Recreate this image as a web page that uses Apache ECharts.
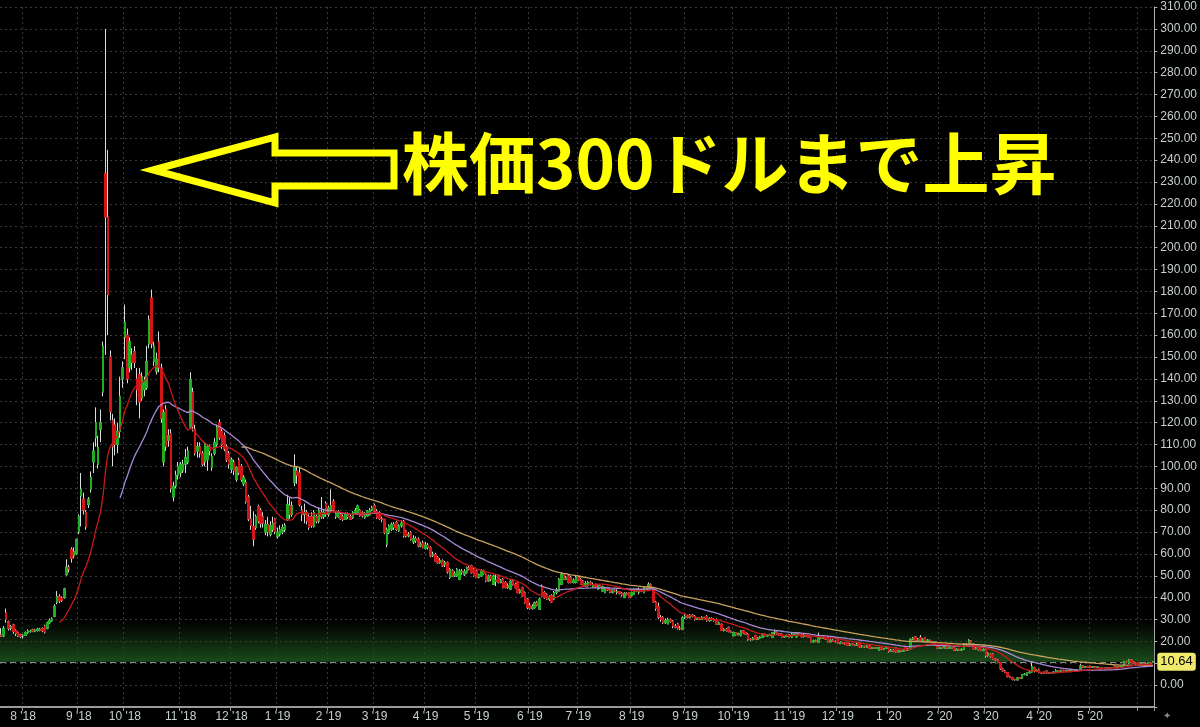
<!DOCTYPE html>
<html><head><meta charset="utf-8">
<script src="https://cdn.jsdelivr.net/npm/echarts@6/dist/echarts.min.js"></script>
<style>html,body{margin:0;padding:0;background:#000;}#c{width:1200px;height:727px;}</style>
</head><body><div id="c"></div>
<script>
// Daily candles per month: [open, close, low, high]
const jul18=[[23,22.4,22,26],[22.5,26,22,27],[33,30,28.5,35],[29,26,25,29.5],[26,26.8,25,27.5],[27.5,24.5,23.5,28],[25,23.5,22.5,25.5],[24,22.5,22,24.5],[23,22.3,21.5,23.5]];
const aug18=[[22.5,22.8,21.3,23.2],[22.8,24,22.5,24.5],[24,24.8,23.5,25.5],[24.5,24.6,24,25.2],[25.3,24.6,24.2,25.8],[24.6,25.2,24.2,25.6],[25,25.6,24.5,26.2],[25.6,25.1,24.6,26.2],[25.8,24.8,24.2,26.4],[27,24.2,23.6,27.6],[26,28.5,25.5,29],[28.5,29.6,28,30.5],[29.4,30.3,29,31],[31.5,36,31,37],[38,40.5,37,43],[40.5,38.5,37.5,41.5],[39.8,38.8,38,40.5],[40,44,39.5,44.5],[50.5,54,50,57.5],[54,53,51.5,55],[62,58,56,63],[59,61,58,63],[60,66.5,59.5,67]];
const sep18=[[70,77,69,78],[86.5,89.5,72.6,97],[85,80,78,88],[79,72.5,71,80],[82.6,85,81,86],[89.5,95,88,97.7],[102,107,97,111],[113,120,109,127],[101,108.7,99,114],[117,120,111,126],[134,155,132,157],[234,214,151,300],[214,178.5,160,244.7],[150,125,121,153],[121,109,100,124],[119,110,105,122],[110,116,106,120],[116,132,113,141],[140,145,136,148]];
const oct18=[[159,166,149,174],[160,140,138,163],[145,157,143,159],[151,147.5,144,154],[152.5,147.5,145,155],[140,135,128,145],[142,129.5,122,145],[131,141,130,143],[135,139,132,141],[136,148,135,155],[156,167,154,169],[177,156,154,180.8],[148,155,146,157],[143.5,149,142,152],[157,145,143,161.7],[145,122,120,147],[102,124.6,100,126],[126,109,107,128],[112,114,109,117],[115,90,88,117],[86,91,84,93],[91,96,90,98],[96,100,94,102]];
const nov18=[[97,101,95,102],[98,101,97,103],[101,104,97,108],[102,107,101,109],[118,139.7,117,143],[134,118,116,136],[117,106,105,119],[107,109,104,111],[109,106,104,111],[106,101,100,107],[102,110,100,111],[103,109,98,110],[109,107,105,110],[99.6,104.6,98,106],[106,111,105,113],[110,118,109,119],[120,113,112,121.5],[116,110,108,117],[114,108,107,115.5],[109,103,102,110],[106,101,99,107]];
const dec18=[[98.6,103,97,104],[102,98,96,103],[94,99.5,93,100],[103,97,96,104],[100,94,93,101],[92,95,91,96],[92.7,84,83,94],[86,76,75,87],[76,73,71,82],[72.6,66.7,63.5,79.5],[72,77,71,78],[81.7,75,74,82.5],[80,74,72,81],[77,74,72,79],[70,73.5,68.6,75.5],[73.5,70,68,77],[69,73,68,75],[71,74,70,77],[76,70,69,76.5]];
const jan19=[[68,70,67,72],[69,71,68,73],[70,72,69,73.5],[71,73,70,74],[75.8,82.6,75,87],[82,78,76,86],[78,82,77,84],[92.6,100,91,105.5],[98,96,92,100],[97,82.6,81.7,99.5],[80,78,75,82],[78,79,74,83],[79,75,73.5,80],[77,72,71,78],[77,73,72,79],[72.6,79,72,80],[77,75,74,78],[75,80,74,81],[79,77,76,86],[77,79,76,80],[83,78,77,84]];
const feb19=[[78,81,77,82],[80,82,79,89.5],[84,80,79,85],[77,78.5,76,79.5],[77,79,76.5,80],[78,76,75.5,79],[77,75.8,75,78],[75.8,78,75.5,79],[78,77,76,79],[77,75.8,75.5,78],[76.6,78.8,76,79.5],[78.8,80,78,81],[78.8,81.9,78.5,82.5],[80,77.5,77,80.5],[78.8,77.3,76.5,79.5],[76.5,78.5,76,79],[77.3,79.6,77,80],[78,80,77.5,81],[80,81,79.5,82]];
const mar19=[[82,79.5,79,83],[79.6,76.6,76,80.5],[78.8,76,75.5,79.5],[76,75.8,74.5,77],[75.8,69.7,69,76],[64.4,71.2,63,72],[69.7,72.8,69,73.5],[71.2,73.5,70.5,74.3],[73.5,72,71,74.5],[74.3,71.2,70.5,75],[70.5,72.8,70,73.5],[72.8,74,72,75.5],[75,68.2,67.5,75.5],[70.5,68.2,67.5,71],[68.2,69,67.5,70],[69.7,66.7,66,70.5],[65.5,67,64.5,68.5],[67,66,65,68],[66.7,63.6,63,67.5],[63.6,64.5,63,65.5],[65,62.9,62.5,66]];
const apr19=[[62.5,64,62,65.5],[64,62.9,62,65],[62.9,59.1,58.5,63.5],[59.1,59.8,58.5,61],[59.8,56.8,56.5,60.5],[58.3,56,55.5,59],[56,57,55.5,58],[56.8,54.5,54,57.5],[55,56,54,56.8],[56,51.8,51,56.5],[49.2,53,48.5,53.5],[52.2,49.9,49.5,53],[49.9,51,49.5,52],[49.9,53,49.5,53.5],[48.4,52.2,48,53],[52,51.5,50.5,53],[50.5,52,49.9,53],[51.4,53.7,51,54.2],[53.7,53,52.5,54.5],[54.5,51.4,51,55],[53,49.9,49.5,53.5]];
const may19=[[52.2,49.2,49,52.8],[49.2,50.5,48.8,51],[49.9,52.2,49.5,53],[52.2,51,50.5,52.8],[50.7,47.6,47,51],[47.6,49.9,47.2,50.5],[49.9,48.5,47.5,50.5],[46.1,49.9,45.8,50.5],[48,47.5,45.3,50.7],[49.9,46.9,46.5,50.5],[47,48,46.5,48.5],[48.4,44.6,44.2,49],[46.9,44.6,44.2,47.5],[44.6,45.5,44,46.5],[43.8,47.6,43.5,48.2],[47.6,46,45.5,48],[46.1,44.6,44.2,46.8],[46.9,42.3,42,47.5],[42.3,43.5,41.8,44],[44.6,40.8,40.5,45],[42.3,37.7,37.2,42.8],[39.3,35.5,34.7,39.8]];
const jun19=[[36.5,35,34.5,37.7],[35,36,34.5,37],[35.4,37.7,35,38.2],[37.7,36.5,36,38.5],[34.7,39.3,34.5,40],[45.3,40.8,40.5,46],[42.3,40,39.5,43],[41.5,39.3,39,42],[39.3,40,38.5,41],[40.8,38,37.7,41.5],[39.3,42.3,39,43],[42.3,43.5,41.5,44.5],[43,48.4,42.8,49],[46.1,50.7,46,51.5],[50.7,48.4,48,51.2],[48.4,49,48,50],[49.9,46.9,46.5,50.5],[49.2,46.9,46.5,49.8],[46.9,48,46.5,48.8],[46.9,49.2,46.5,50]];
const jul19=[[49.2,48,47.5,49.8],[48.4,46.1,45.8,49],[47.6,45.3,45,48],[45.3,46.5,45,47.5],[45.5,47,45,47.6],[47,46,45.5,47.5],[45,46,44.6,46.9],[46,45,44.5,46.5],[43.8,45.5,43.5,46.1],[45.5,44.5,44,46],[43,45,42.8,45.5],[42.3,44.6,42,45],[44.6,43.5,43,45],[43.5,42.5,42,44],[42.3,43.5,42,43.8],[43.5,43,42.5,44],[42.5,42.8,41.5,43.8],[42.8,42,41.5,43],[42,41.2,40.5,42.5],[40,42,39.8,42.5],[42,41.5,41,42.5],[42.3,40.2,40,42.6]];
const aug19=[[40.8,42.3,40.5,42.8],[41.5,43.8,41.2,44.2],[43.8,43,42.5,44.2],[42.5,43.5,41.5,44.6],[43.5,43,42.5,44],[42.3,44.6,42,45],[44.6,44,43.5,45],[43.8,46.1,43.5,47],[46,45,44,46.5],[44,38,37.7,44.5],[38,35,34,38.5],[36,31,30.1,37.7],[31,30,29,32],[31,28.5,28,31.5],[28.5,29.5,28,30.5],[28,30,27.8,30.8],[30,29,28.5,30.5],[29.3,27,26,29.8],[27,26.5,26,28],[28,26,25.4,28.5],[26,25.8,25.2,27],[25.4,30.8,25.2,31.5]];
const sep19=[[30.8,31.5,30.2,32.5],[31.5,31,30.5,32],[30.8,32,30.5,32.5],[32,31.5,31,32.5],[31.5,30,29.5,32],[30,30.5,29.8,31],[30.5,30.2,29.8,31],[30,31,29.8,31.5],[31,30.5,30,31.2],[31.5,29.5,29,32],[29.5,30.5,29,31],[30.5,30,29.5,31],[30,29.5,29,30.5],[30,27.8,27.5,30.5],[27.8,28.5,27.5,29],[27.8,25,24.8,28.2],[25,25.5,24.5,26],[25.5,25,24.5,26],[26.3,24.5,24.1,26.8],[24.5,24.2,23.8,25]];
const oct19=[[22.6,24,22.3,24.5],[24,23,22.6,24.3],[23,23.5,22.8,24],[22.6,24.8,22.3,25.2],[24.8,24,23.5,25.2],[24,23.3,23,24.2],[23.3,21,20.3,23.8],[21,20.8,20.3,21.5],[20.8,21.5,20.5,22],[22.6,21,20.8,23],[21,21.5,20.8,22],[21.5,22,21.2,22.5],[21.8,23.3,21.5,23.6],[23.3,22.5,22.2,23.5],[22.5,22.8,22.2,23.2],[22.8,23,22.5,23.5],[21.8,24,21.5,24.3],[24,24.3,23,25.4],[24.3,23.5,23,24.5],[23.5,22.8,22.5,23.8],[23.3,22,21.8,23.6],[22,22.3,21.8,22.8],[22.3,22.8,22,23.2]];
const nov19=[[22.8,22.2,21.8,23.3],[21.8,23.3,21.5,23.8],[23.3,23.5,22.8,24],[22,24,21.8,24.3],[24,23.3,22.8,24.3],[23.3,22.2,21.8,23.6],[22.2,22.8,21.8,23.3],[22.8,22.3,22,23],[22.3,21.8,21.5,22.6],[21.8,19.8,19.5,22],[19.8,20.3,19.5,20.8],[20.3,20,19.6,20.8],[19.5,22.5,19.3,24],[22.5,21.5,21,22.8],[21.5,21.8,21.2,22.2],[21.8,21,20.8,22],[21.5,19.8,19.5,21.8],[19.8,20.5,19.5,21],[20.5,20,19.8,21],[20,19.8,19.5,20.5]];
const dec19=[[21,19,18.8,21.3],[19,19.5,18.8,20],[19.5,19.2,18.8,19.8],[19.2,18.8,18.5,19.5],[19.5,18.2,18,19.8],[18.2,18.8,18,19.2],[18.8,18.5,18.2,19],[18.5,18.2,17.8,18.8],[18.2,18.8,18,19.5],[19.5,17.5,17.2,19.8],[17.5,17.8,17.2,18.2],[17.8,17.4,17,18],[17.4,17.8,17.2,18.2],[18,16.8,16.4,18.2],[16.8,17.2,16.5,17.5],[17.2,16.8,16.5,17.5],[16.8,17,16.5,17.3],[16,17.2,15.7,17.5],[17.2,16.5,16,17.4],[16.5,16.8,16.2,17],[16.8,17.2,16.5,17.4]];
const jan20=[[17.2,15.5,14.9,17.5],[15.5,16,15.2,16.5],[16,15.5,15,16.3],[17,15.2,14.9,17.2],[15.2,15.8,15,16.2],[15.8,15.5,15,16],[15.5,16,15.2,16.5],[17.5,16,15.7,18],[16,16.5,15.8,17],[16.6,21,16.4,21.3],[21,21.5,20.5,22],[22,20.5,20,22.4],[20.5,21,20.2,21.5],[21.8,20.3,20,22.9],[20.3,21,20,21.5],[21.8,19.8,19.5,22],[19.8,20.5,19.5,21],[20.5,19.8,19.5,20.8],[19.8,19.5,19,20],[19.5,18.5,18.2,19.8],[18,16.8,16.4,18.3]];
const feb20=[[16.8,17.2,16.5,17.6],[17.2,17,16.6,17.5],[17,17.6,16.8,18],[18.8,16.8,16.4,19],[16.8,17.2,16.5,17.6],[17.2,16.8,16.5,17.4],[17.2,15.9,15.7,17.4],[15.9,16.4,15.7,16.8],[16.4,16,15.7,16.6],[16,16.4,15.8,16.8],[16.4,18.8,16.2,19.2],[18.8,18.5,18,19.2],[18,20.3,17.8,21],[20.3,19.5,19,20.6],[18.8,16.6,16.4,19.2],[16.6,17,16.3,17.4],[17,16.2,15.8,17.2],[17,15.8,15.5,17.2],[15.8,16.2,15.5,16.8]];
const mar20=[[16.4,13.5,12.6,16.8],[13.5,14.5,13,15],[14.2,13,12.5,14.5],[14.2,11.9,11.8,14.5],[11.9,11.5,11,12.2],[11.5,10.3,10,11.8],[10.3,7.5,7,10.5],[7.5,6.5,6.2,8],[6.5,5.8,5.5,7],[5.8,4,3.5,6],[4,3.5,3.2,4.3],[3.5,2.6,2.2,3.8],[2.6,2.5,2,2.9],[2.4,3.3,2.1,3.5],[3.3,3.2,2.8,3.6],[3,4.8,2.8,5],[4.8,5,4.5,5.5],[4.5,5.6,4.3,5.8],[5.6,6,5.4,6.5],[6,8.5,5.8,10.3],[8.1,6.5,5.8,8.4],[6.5,6.8,6.2,7.2]];
const apr20=[[7.3,5.8,5.5,7.5],[5.8,5.5,5,6],[5.5,5.9,5.3,6.2],[6.5,5.5,5.2,6.8],[5.5,5.8,5.3,6],[5.8,5.6,5.3,6],[5.6,6,5.4,6.3],[5.9,6.6,5.8,7.3],[6.6,6.4,6,6.8],[6.4,6.8,6.2,7],[6.8,6.5,6.2,7],[6.5,6.6,6.2,6.9],[6.6,6.3,6,6.8],[6.2,7,5.9,7.3],[7,6.5,6.2,7.2],[6.5,6.7,6.3,7],[6.7,6.5,6.2,7],[7.5,8.8,7.3,9.6],[8.8,8.2,7.8,9],[8.2,8.5,8,8.8],[8.5,8.2,8,8.8]];
const may20=[[8.8,8.2,8,9],[8.2,8.4,8,8.7],[8.4,8.1,7.9,8.6],[8.1,8.3,7.9,8.5],[8.1,7.5,7.3,8.3],[7.5,7.8,7.3,8],[7.8,7.6,7.3,8],[7.6,7.9,7.4,8.2],[7.9,7.6,7.3,8],[7.6,7.8,7.4,8],[8.8,8.1,8,9],[8.1,8.4,8,8.6],[8.4,8.2,8,8.7],[8.2,8.6,8.1,8.9],[8.8,10.8,8.6,11.1],[10.8,10.3,10,11.2],[10,11.5,9.6,11.9],[11.5,10.5,10.2,11.8],[10.5,10,9.6,10.8],[10,9.8,9.4,10.3]];
const jun20=[[10.3,9.5,9.2,10.5],[9.5,9.8,9.3,10],[9.8,9.4,9.1,10],[9.4,9.9,9.2,10.1],[9.9,10.2,9.7,10.4],[10.2,10,9.8,10.5],[10.4,10.64,10.2,10.9]];

const monthLabels=["7 '18","8 '18","9 '18","10 '18","11 '18","12 '18","1 '19","2 '19","3 '19","4 '19","5 '19","6 '19","7 '19","8 '19","9 '19","10 '19","11 '19","12 '19","1 '20","2 '20","3 '20","4 '20","5 '20","6 '20"];
const monthData=[jul18,aug18,sep18,oct18,nov18,dec18,jan19,feb19,mar19,apr19,may19,jun19,jul19,aug19,sep19,oct19,nov19,dec19,jan20,feb20,mar20,apr20,may20,jun20];
const maPeriods=[25,50,100];   // weighted moving averages
const lastPrice=10.64;
const annotation="株価300ドルまで上昇";

const categories=[],ohlc=[];
monthData.forEach((m,mi)=>m.forEach((d,j)=>{categories.push(monthLabels[mi]+'#'+j);ohlc.push(d);}));
const bodies=ohlc.map(d=>[d[0],d[1],Math.min(d[0],d[1]),Math.max(d[0],d[1])]);
function wma(n){const den=n*(n+1)/2;return ohlc.map((d,i)=>{if(i<n-1)return '-';let s=0;for(let k=0;k<n;k++)s+=(k+1)*ohlc[i-n+1+k][1];return +(s/den).toFixed(3);});}
const isMonthStart=(v)=>String(v).endsWith('#0');
const firstKey=monthLabels[0]+'#0', lastKey=monthLabels[monthLabels.length-1]+'#0';

const chart=echarts.init(document.getElementById('c'),null,{renderer:'canvas'});
const gridCol='#3a3a3a';
chart.setOption({
  backgroundColor:'#000',
  animation:false,
  grid:{left:-5,right:42,top:7,bottom:20},
  xAxis:{type:'category',data:categories,boundaryGap:true,
    axisLine:{onZero:false,lineStyle:{color:'#9a9a9a',width:2}},
    axisTick:{show:true,length:4,lineStyle:{color:'#9a9a9a'},interval:(i,v)=>isMonthStart(v)&&v!==firstKey},
    axisLabel:{color:'#c8d0d0',fontSize:12,fontFamily:'Liberation Sans',margin:4,
      interval:(i,v)=>isMonthStart(v)&&v!==firstKey&&v!==lastKey,
      formatter:(v)=>String(v).split('#')[0]},
    splitLine:{show:true,interval:(i,v)=>isMonthStart(v)&&v!==firstKey,lineStyle:{color:gridCol,type:[2,3]}}
  },
  yAxis:{type:'value',position:'right',min:-10,max:310,interval:10,scale:false,
    axisLine:{show:true,lineStyle:{color:'#b0b0b0',width:1}},
    axisTick:{show:true,length:3,lineStyle:{color:'#b0b0b0'}},
    axisLabel:{color:'#c8d0d0',fontSize:12,fontFamily:'Liberation Sans',margin:6,
      formatter:(v)=>v<0?'':v.toFixed(2)},
    splitLine:{show:true,lineStyle:{color:gridCol,type:[2,3]}}
  },
  series:[
    {type:'candlestick',name:'wick',data:ohlc,barWidth:2,z:2,
      itemStyle:{color:'#d8dede',color0:'#d8dede',borderColor:'#d8dede',borderColor0:'#d8dede',borderWidth:1},
      markArea:{silent:true,z:1,data:[[{yAxis:lastPrice,itemStyle:{color:{type:'linear',x:0,y:0,x2:0,y2:1,colorStops:[{offset:0,color:'rgba(24,70,24,0)'},{offset:1,color:'rgba(28,78,28,0.95)'}]}}},{yAxis:30}]]},
      markLine:{silent:true,symbol:['none','none'],z:3,
        lineStyle:{color:'#8c8c8c',type:[6,4],width:1},
        label:{show:true,position:'end',formatter:lastPrice.toFixed(2),color:'#000',backgroundColor:'#efea6c',
          padding:[3,3,2,3],borderRadius:3,fontSize:13,fontFamily:'Liberation Sans',distance:3},
        data:[{yAxis:lastPrice}]}
    },
    {type:'candlestick',name:'body',data:bodies,barWidth:2,z:3,
      itemStyle:{color:'#1fae1f',color0:'#d41515',borderColor:'#1fae1f',borderColor0:'#d41515',borderWidth:1}},
    {type:'line',name:'WMA'+maPeriods[2],data:wma(maPeriods[2]),symbol:'none',z:4,lineStyle:{color:'#c9a25f',width:1.3}},
    {type:'line',name:'WMA'+maPeriods[1],data:wma(maPeriods[1]),symbol:'none',z:4,lineStyle:{color:'#a98ad8',width:1.3}},
    {type:'line',name:'WMA'+maPeriods[0],data:wma(maPeriods[0]),symbol:'none',z:4,lineStyle:{color:'#c81a1a',width:1.3}}
  ],
  graphic:[
    {type:'polygon',z:100,shape:{points:[[153,170],[275,137],[275,153],[394,153],[394,186],[275,186],[275,203]]},
      style:{fill:'none',stroke:'#ffff00',lineWidth:7,lineJoin:'miter'}},
    {type:'text',z:100,x:402,y:164,style:{text:annotation,fill:'#ffff00',font:'bold 67px "Noto Sans CJK JP"',
      textAlign:'left',textVerticalAlign:'middle',align:'left',verticalAlign:'middle'}},
    {type:'text',z:100,x:1163,y:716,style:{text:'✦',fill:'#8a8a8a',font:'10px "DejaVu Sans"',align:'left',verticalAlign:'middle'}}
  ]
});
</script></body></html>
